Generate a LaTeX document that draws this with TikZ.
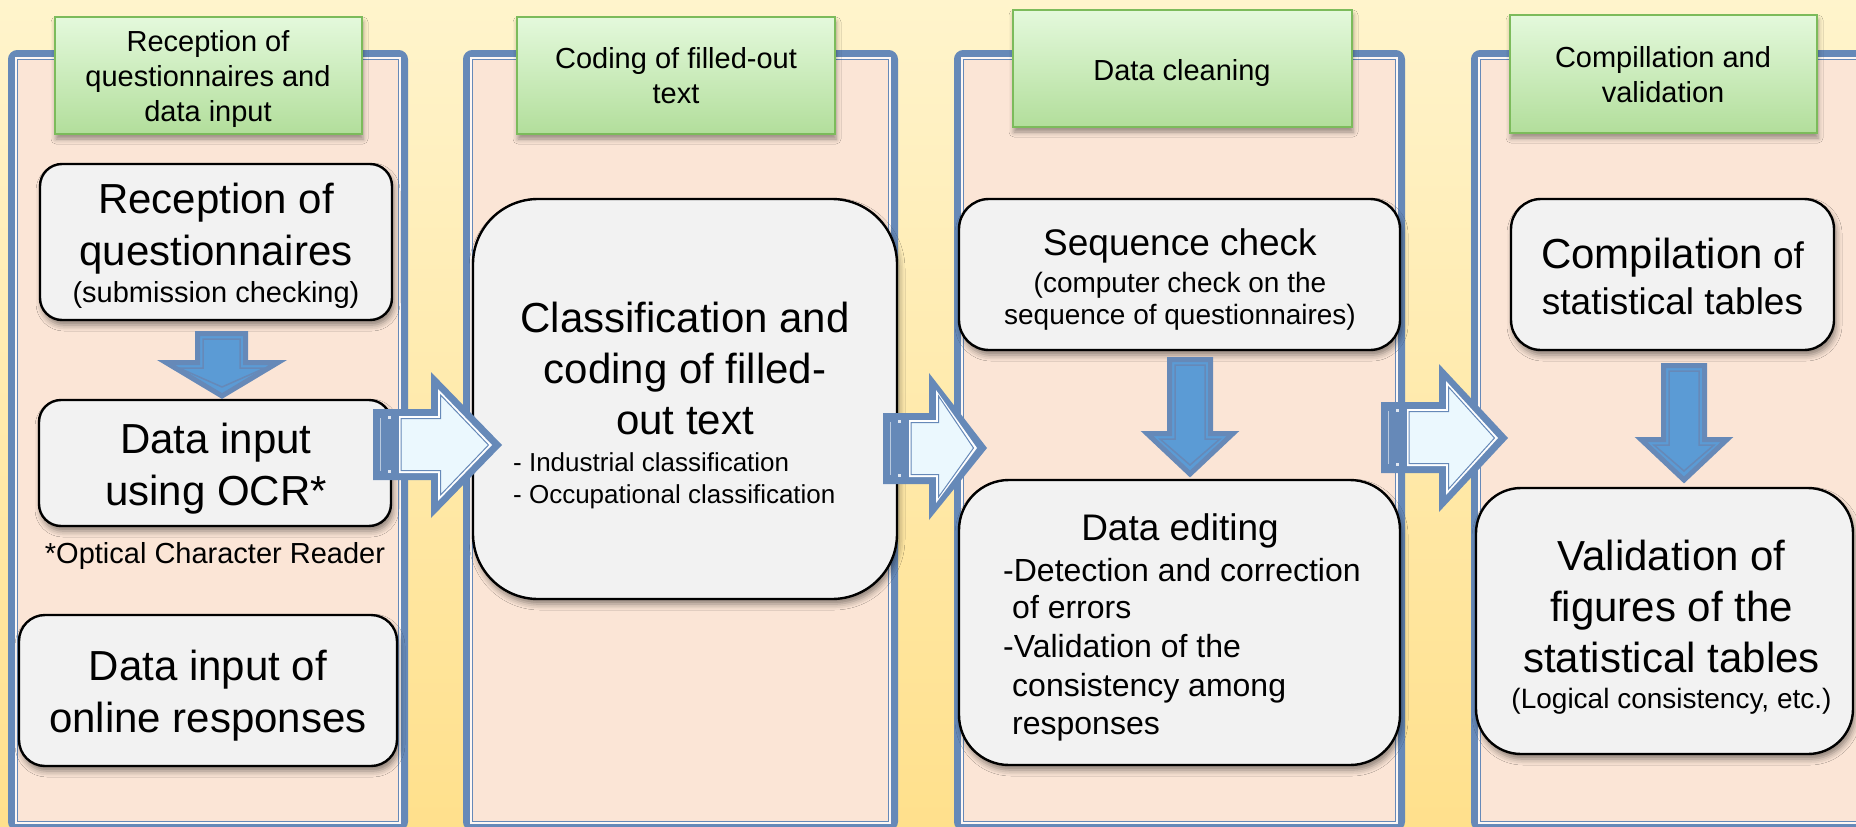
\documentclass[tikz,border=0pt]{standalone}
\usepackage{fontspec}
\setmainfont{Liberation Sans}
\usetikzlibrary{shadows.blur}
\definecolor{bgtop}{HTML}{FFF4CC}
\definecolor{bgbot}{HTML}{FFE08C}
\definecolor{peach}{HTML}{FBE5D6}
\definecolor{frameblue}{HTML}{6689B8}
\definecolor{hdrtop}{HTML}{E4F9DC}
\definecolor{hdrbot}{HTML}{B2DE9B}
\definecolor{hdrline}{HTML}{7CBB5B}
\definecolor{boxfill}{HTML}{F2F2F2}
\definecolor{downfill}{HTML}{5B9BD5}
\definecolor{arrlight}{HTML}{EBF8FE}

\newcommand{\myframe}[4]{%
  \filldraw[fill=peach, draw=frameblue, line width=7pt, rounded corners=6pt]
    ({#1+3.5},{#2+3.5}) rectangle ({#3-3.5},{#4-3.5});
  \draw[white!70!peach, line width=2pt] ({#1+8},{#2+8}) rectangle ({#3-8},{#4-8});
  \draw[frameblue, line width=1.1pt] ({#1+9.8},{#2+9.8}) rectangle ({#3-9.8},{#4-9.8});
}
% T S1 S2 H A1 A2 P C
\newcommand{\myrarrow}[8]{%
  \fill[frameblue] (#1,#2) -- (#4,#2) -- (#4,#5) -- (#7,#8) -- (#4,#6) -- (#4,#3) -- (#1,#3) -- cycle;
  \fill[white] ({#1+26},{#2+7}) -- ({#4+7},{#2+7}) -- ({#4+7},{#5+17}) -- ({#7-10},{#8})
     -- ({#4+7},{#6-17}) -- ({#4+7},{#3-7}) -- ({#1+26},{#3-7}) -- cycle;
  \filldraw[fill=arrlight, draw=frameblue, line width=1pt] ({#1+28},{#2+9.5}) -- ({#4+9.5},{#2+9.5})
     -- ({#4+9.5},{#5+23}) -- ({#7-13.5},{#8}) -- ({#4+9.5},{#6-23}) -- ({#4+9.5},{#3-9.5})
     -- ({#1+28},{#3-9.5}) -- cycle;
  \draw[frameblue!45!white, line width=0.6pt] ({#1+7},{#2+9}) -- ({#1+7},{#3-9});
  \fill[white!80!frameblue] ({#1+15},{#2+7}) rectangle ({#1+17.5},{#2+10});
  \fill[white!80!frameblue] ({#1+15},{#3-7}) rectangle ({#1+17.5},{#3-10});
}
% L R Top Hs HL HR Tip
\newcommand{\mydarrow}[7]{%
  \filldraw[fill=downfill, draw=frameblue, line width=5pt, line join=miter, miter limit=10]
    ({#1+2.5},{#3+2.5}) -- ({#2-2.5},{#3+2.5}) -- ({#2-2.5},{#4+2.5}) -- ({#6-5},{#4+2.5})
    -- ({(#5+#6)/2},{#7-4}) -- ({#5+5},{#4+2.5}) -- ({#1+2.5},{#4+2.5}) -- cycle;
  \draw[frameblue, line width=1.5pt, line join=miter]
    ({#1+8},{#3+8}) -- ({#2-8},{#3+8}) -- ({#2-8},{#4+8}) -- ({#6-18},{#4+8})
    -- ({(#5+#6)/2},{#7-13}) -- ({#5+18},{#4+8}) -- ({#1+8},{#4+8}) -- cycle;
}

\tikzset{
  hdr/.style={rectangle, top color=hdrtop, bottom color=hdrbot, draw=hdrline, line width=2.5pt,
    blur shadow={shadow xshift=1pt, shadow yshift=-5pt, shadow blur radius=5pt, shadow opacity=40}},
  box/.style={rectangle, fill=boxfill, draw=black, line width=2.4pt,
    blur shadow={shadow xshift=2pt, shadow yshift=-5pt, shadow blur radius=6pt, shadow opacity=45}},
  txt/.style={inner sep=0pt, anchor=base, text=black},
  txtl/.style={inner sep=0pt, anchor=base west, text=black},
  fa/.style={font=\fontsize{42}{50}\selectfont},
  fb/.style={font=\fontsize{37}{44}\selectfont},
  fc/.style={font=\fontsize{32}{38}\selectfont},
  fd/.style={font=\fontsize{29}{35}\selectfont},
  fe/.style={font=\fontsize{28}{33}\selectfont},
  ff/.style={font=\fontsize{26}{31}\selectfont},
}

\begin{document}
\begin{tikzpicture}[x=1pt,y=-1pt]
\useasboundingbox (0,0) rectangle (1856,827);
\clip (0,0) rectangle (1856,827);
\shade[top color=bgtop, bottom color=bgbot] (0,0) rectangle (1856,827);

% column frames
\myframe{8}{50}{408}{831}
\myframe{463}{50}{898}{831}
\myframe{954}{50}{1405}{831}
\myframe{1471}{50}{1920}{831}

% headers
\node[hdr, minimum width=307pt, minimum height=117pt] (h1) at (208.5,75.5) {};
\node[hdr, minimum width=318pt, minimum height=117pt] (h2) at (676,75.5) {};
\node[hdr, minimum width=339pt, minimum height=117pt] (h3) at (1182.5,68.5) {};
\node[hdr, minimum width=307pt, minimum height=118pt] (h4) at (1663.5,74) {};

\node[txt, fd] (h1a) at (208,51) {Reception of};
\node[txt, fd] (h1b) at (208,86) {questionnaires and};
\node[txt, fd] (h1c) at (208,121) {data input};
\node[txt, fd] (h2a) at (676,68) {Coding of filled-out};
\node[txt, fd] (h2b) at (676,103) {text};
\node[txt, fd] (h3a) at (1182,80) {Data cleaning};
\node[txt, fd] (h4a) at (1663,67) {Compillation and};
\node[txt, fd] (h4b) at (1663,102) {validation};

% boxes
\node[box, rounded corners=22pt, minimum width=352pt, minimum height=156pt] (b1) at (216,242) {};
\node[box, rounded corners=22pt, minimum width=352pt, minimum height=126pt] (b2) at (215,463) {};
\node[box, rounded corners=26pt, minimum width=378pt, minimum height=151pt] (b3) at (208,690.5) {};
\node[box, rounded corners=65pt, minimum width=424pt, minimum height=400pt] (b4) at (685,399) {};
\node[box, rounded corners=30pt, minimum width=441pt, minimum height=151pt] (b5) at (1179.5,274.5) {};
\node[box, rounded corners=50pt, minimum width=441pt, minimum height=285pt] (b6) at (1179.5,622.5) {};
\node[box, rounded corners=30pt, minimum width=323pt, minimum height=151pt] (b7) at (1672.5,274.5) {};
\node[box, rounded corners=45pt, minimum width=377pt, minimum height=266pt] (b8) at (1664.5,621) {};

% texts column 1
\node[txt, fa] (b1a) at (216,213) {Reception of};
\node[txt, fa] (b1b) at (216,265) {questionnaires};
\node[txt, fd] (b1c) at (216,302) {(submission checking)};
\node[txt, fa] (b2a) at (216,453) {Data input};
\node[txt, fa] (b2b) at (216,505) {using OCR*};
\node[txt, fd] (ocr) at (215,563) {*Optical Character Reader};
\node[txt, fa] (b3a) at (208,680) {Data input of};
\node[txt, fa] (b3b) at (208,732) {online responses};

% texts column 2
\node[txt, fa] (b4a) at (685,332) {Classification and};
\node[txt, fa] (b4b) at (685,383) {coding of filled-};
\node[txt, fa] (b4c) at (685,434) {out text};
\node[txtl, ff] (b4d) at (513,471) {- Industrial classification};
\node[txtl, ff] (b4e) at (513,503) {- Occupational classification};

% texts column 3
\node[txt, fb] (b5a) at (1180,255) {Sequence check};
\node[txt, fe] (b5b) at (1180,292) {(computer check on the};
\node[txt, fe] (b5c) at (1180,324) {sequence of questionnaires)};
\node[txt, fb] (b6a) at (1180,540) {Data editing};
\node[txtl, fc] (b6b) at (1003,581) {-Detection and correction};
\node[txtl, fc] (b6c) at (1012,618) {of errors};
\node[txtl, fc] (b6d) at (1003,657) {-Validation of the};
\node[txtl, fc] (b6e) at (1012,696) {consistency among};
\node[txtl, fc] (b6f) at (1012,734) {responses};

% texts column 4
\node[txt, fa] (b7a) at (1672.5,268) {Compilation{\fontsize{37}{44}\selectfont{} of}};
\node[txt, fb] (b7b) at (1672.5,314) {statistical tables};
\node[txt, fa] (b8a) at (1671.5,570) {Validation of};
\node[txt, fa] (b8b) at (1671.5,621) {figures of the};
\node[txt, fa] (b8c) at (1671.5,672) {statistical tables};
\node[txt, fe] (b8d) at (1671.5,708) {(Logical consistency, etc.)};

% down arrows
\mydarrow{195}{248}{331}{360}{161}{283}{400}
\mydarrow{1167}{1213}{357}{431}{1142}{1238}{478}
\mydarrow{1661}{1707}{363}{437}{1636}{1732}{484}

% right arrows
\myrarrow{373}{409}{480}{431}{372}{518}{502}{445}
\myrarrow{883}{413}{484}{929}{373}{520}{987}{448}
\myrarrow{1381}{402}{473}{1439}{364}{512}{1508}{438}
\end{tikzpicture}
\end{document}
